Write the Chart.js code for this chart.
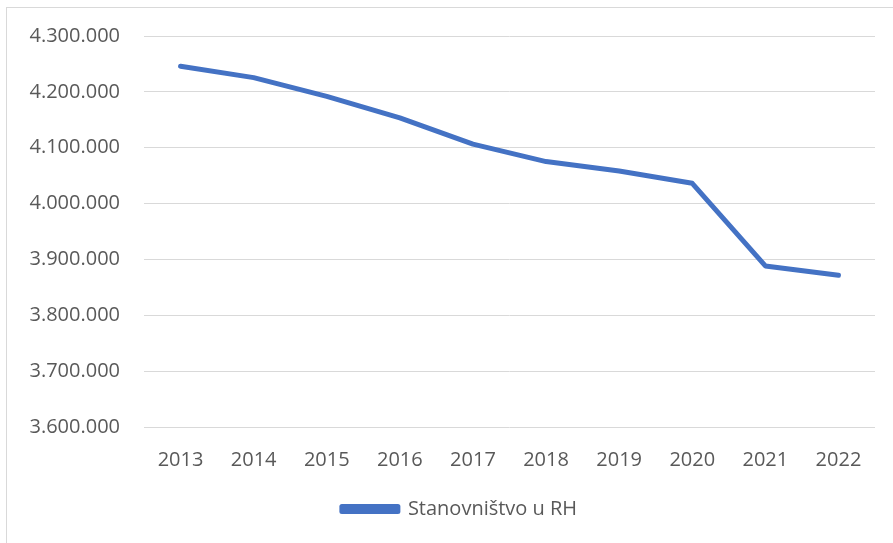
<!DOCTYPE html>
<html>
<head>
<meta charset="utf-8">
<script src="https://cdn.jsdelivr.net/npm/chart.js@4.4.0/dist/chart.umd.min.js"></script>
<style>
  body { margin: 0; background: #fff; }
  #frame { position: absolute; left: 6px; top: 7px; width: 900px; height: 600px; border: 1px solid #d9d9d9; }
  #myChart { position: absolute; left: 0; top: 0; }
</style>
</head>
<body>
<div id="frame"></div>
<canvas id="myChart" width="893" height="543"></canvas>
<script>
const years = ['2013', '2014', '2015', '2016', '2017', '2018', '2019', '2020', '2021', '2022'];
const population = [4246000, 4225500, 4191800, 4153500, 4106500, 4075200, 4058400, 4036300, 3888400, 3871500];
const seriesName = 'Stanovništvo u RH';
const yMin = 3600000;
const yMax = 4300000;
const yStep = 100000;

// 4300000 -> "4.300.000"
function fmt(v) {
    return String(Math.round(v)).replace(/\B(?=(\d{3})+(?!\d))/g, '.');
}

const font = { family: "'Open Sans', sans-serif", size: 20 };

// nudge the legend to the right, like the original
const legendShift = {
    id: 'legendShift',
    afterLayout(chart) {
        chart.legend.left += 22;
        chart.legend.right += 22;
    }
};

const ctx = document.getElementById('myChart').getContext('2d');
const chart = new Chart(ctx, {
    type: 'line',
    data: {
        labels: years,
        datasets: [{
            label: seriesName,
            data: population,
            borderColor: '#4472C4',
            backgroundColor: '#4472C4',
            borderWidth: 5,
            pointRadius: 0,
            tension: 0,
            fill: false,
            borderCapStyle: 'round',
            borderJoinStyle: 'round'
        }]
    },
    options: {
        responsive: false,
        animation: false,
        devicePixelRatio: 1,
        layout: { padding: { top: 25, right: 18, bottom: 14, left: 0 } },
        plugins: {
            tooltip: { enabled: false },
            legend: {
                position: 'bottom',
                labels: {
                    color: '#595959',
                    font: font,
                    boxWidth: 56,
                    boxHeight: 5,
                    padding: 6
                }
            }
        },
        scales: {
            x: {
                offset: true,
                grid: { display: false, drawTicks: false },
                border: { display: false },
                ticks: { color: '#595959', font: font, padding: 21, maxRotation: 0 }
            },
            y: {
                min: yMin,
                max: yMax,
                grid: { color: '#d9d9d9', lineWidth: 1, drawTicks: false },
                border: { display: false },
                ticks: {
                    stepSize: yStep,
                    color: '#595959',
                    font: font,
                    padding: 24,
                    callback: function(value) { return fmt(value); }
                },
                afterFit: function(axis) { axis.width = 144; }
            }
        }
    },
    plugins: [legendShift]
});
</script>
</body>
</html>
